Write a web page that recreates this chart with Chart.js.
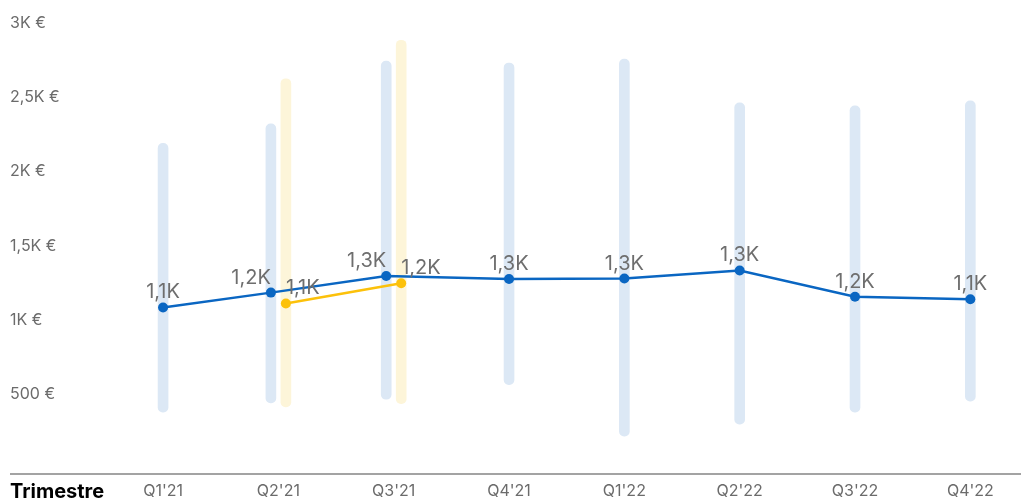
<!DOCTYPE html>
<html>
<head>
<meta charset="utf-8">
<script src="https://cdn.jsdelivr.net/npm/chart.js@4"></script>
<style>
  html, body { margin: 0; padding: 0; background: #fff; overflow: hidden; }
  #clip { position: relative; width: 1021px; height: 502px; overflow: hidden; }
  #chart { position: absolute; left: 0; top: 0; width: 1033px; height: 502px; }
</style>
</head>
<body>
<div id="clip"><canvas id="chart" width="1033" height="502"></canvas></div>
<script>
'use strict';

// ─── DATA ────────────────────────────────────────────────────────────────────
const quarters = ["Q1'21", "Q2'21", "Q3'21", "Q4'21", "Q1'22", "Q2'22", "Q3'22", "Q4'22"];

// range bars [low, high]
const rangeCurrent = [
  [380, 2190], [442, 2321], [467, 2744], [566, 2731],
  [219, 2757], [300, 2462], [380, 2442], [454, 2476]
];
const rangePrevious = [null, [415, 2625], [438, 2884], null, null, null, null, null];

// average lines
const avgCurrent  = [1085, 1185, 1297, 1277, 1280, 1334, 1157, 1140];
const avgPrevious = [null, 1112, 1248, null, null, null, null, null];

const yTicks = [500, 1000, 1500, 2000, 2500, 3000];

// ─── STYLE ───────────────────────────────────────────────────────────────────
const BLUE = '#0a66c2';
const YELLOW = '#fcc10a';
const BLUE_BAR = '#dce8f5';
const YELLOW_BAR = '#fdf5d9';
const PAIR_SHIFT = 0.065;   // in category units, when two bars share a quarter

Chart.defaults.font.family = 'Inter';

function fmtK(v) {
  return (v / 1000).toFixed(1).replace('.', ',') + 'K';
}
function fmtTick(v) {
  if (v >= 1000) return String(v / 1000).replace('.', ',') + 'K €';
  return v + ' €';
}

function shiftFor(i, side) {
  const both = rangeCurrent[i] && rangePrevious[i];
  return both ? side * PAIR_SHIFT : 0;
}
function toPoints(values, side) {
  return values
    .map((v, i) => v == null ? null : { x: i + shiftFor(i, side), y: v })
    .filter(Boolean);
}

// ─── PLUGINS ─────────────────────────────────────────────────────────────────
const decor = {
  id: 'decor',
  afterDraw(chart) {
    const { ctx, chartArea } = chart;
    ctx.save();
    ctx.strokeStyle = '#a3a3a3';
    ctx.lineWidth = 2;
    ctx.beginPath();
    ctx.moveTo(10, chartArea.bottom);
    ctx.lineTo(chart.width, chartArea.bottom);
    ctx.stroke();
    ctx.fillStyle = '#000';
    ctx.font = 'bold 20px Inter';
    ctx.textBaseline = 'middle';
    ctx.textAlign = 'left';
    ctx.fillText('Trimestre', 10, chartArea.bottom + 18);
    ctx.restore();
  }
};

const pointLabels = {
  id: 'pointLabels',
  afterDatasetsDraw(chart) {
    const { ctx } = chart;
    ctx.save();
    ctx.font = '20px Inter';
    ctx.fillStyle = '#6e6e6e';
    ctx.textBaseline = 'alphabetic';
    chart.data.datasets.forEach((ds, di) => {
      if (ds.type !== 'line') return;
      const meta = chart.getDatasetMeta(di);
      meta.data.forEach((pt, k) => {
        const raw = ds.data[k];
        const off = raw.x - Math.round(raw.x);
        ctx.textAlign = off < 0 ? 'right' : off > 0 ? 'left' : 'center';
        ctx.fillText(fmtK(raw.y), pt.x, pt.y - 9);
      });
    });
    ctx.restore();
  }
};

// ─── CHART ───────────────────────────────────────────────────────────────────
new Chart(document.getElementById('chart'), {
  data: {
    labels: quarters,
    datasets: [
      {
        type: 'line', label: 'Moyenne', order: 0,
        xAxisID: 'xl',
        data: toPoints(avgCurrent, -1),
        borderColor: BLUE, backgroundColor: BLUE,
        borderWidth: 2.5, pointRadius: 5, pointBorderWidth: 0,
        tension: 0
      },
      {
        type: 'line', label: 'Moyenne N-1', order: 0.5,
        xAxisID: 'xl',
        data: toPoints(avgPrevious, 1),
        borderColor: YELLOW, backgroundColor: YELLOW,
        borderWidth: 2.5, pointRadius: 5, pointBorderWidth: 0,
        tension: 0
      },
      {
        type: 'bar', label: 'Plage', order: 1,
        xAxisID: 'xl',
        data: toPoints(rangeCurrent, -1),
        backgroundColor: BLUE_BAR,
        borderRadius: 6, borderSkipped: false
      },
      {
        type: 'bar', label: 'Plage N-1', order: 1,
        xAxisID: 'xl',
        data: toPoints(rangePrevious, 1),
        backgroundColor: YELLOW_BAR,
        borderRadius: 6, borderSkipped: false
      }
    ]
  },
  options: {
    responsive: false,
    animation: false,
    layout: { padding: { left: 10, top: 23, right: 0, bottom: 0 } },
    datasets: {
      bar: {
        grouped: false,
        categoryPercentage: 1,
        barPercentage: 1,
        maxBarThickness: 10
      }
    },
    plugins: {
      legend: { display: false },
      tooltip: { enabled: false }
    },
    scales: {
      x: {
        type: 'category',
        offset: true,
        grid: { display: false, drawTicks: false },
        border: { display: false },
        ticks: { color: '#6b6b6b', font: { size: 16 }, padding: 8, maxRotation: 0 },
        afterFit: s => { s.height = 28; }
      },
      xl: {
        type: 'linear',
        display: false,
        offset: false,
        min: -0.5, max: 7.5
      },
      y: {
        position: 'left',
        min: -36, max: 3000,
        grid: { display: false, drawTicks: false },
        border: { display: false },
        ticks: {
          color: '#6b6b6b', font: { size: 16 }, crossAlign: 'far',
          callback: v => fmtTick(v)
        },
        afterBuildTicks: s => { s.ticks = yTicks.map(v => ({ value: v })); },
        afterFit: s => { s.width = 95.4; }
      }
    }
  },
  plugins: [decor, pointLabels]
});
</script>
</body>
</html>
